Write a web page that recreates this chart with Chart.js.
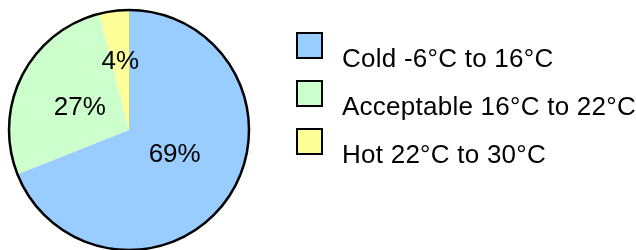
<!DOCTYPE html>
<html>
<head>
<meta charset="utf-8">
<script src="https://cdn.jsdelivr.net/npm/chart.js@4/dist/chart.umd.min.js"></script>
<style>
  html, body { margin: 0; padding: 0; background: #fff; }
  #wrap { width: 636px; height: 250px; position: relative; }
</style>
</head>
<body>
<div id="wrap"><canvas id="chart"></canvas></div>
<script>
// temperature bands, share of time (%)
const categories = ["Cold -6°C to 16°C", "Acceptable 16°C to 22°C", "Hot 22°C to 30°C"];
const shares = [69, 27, 4];
const sliceColors = ["#99CCFF", "#CCFFCC", "#FFFF99"];

const FONT = "26px 'Liberation Sans', Arial, sans-serif";

// black ring round the pie only (no lines between slices)
const outline = {
  id: "outline",
  afterDatasetsDraw(chart) {
    const arc = chart.getDatasetMeta(0).data[0];
    if (!arc) return;
    const { x, y, outerRadius } = arc.getProps(["x", "y", "outerRadius"], true);
    const ctx = chart.ctx;
    ctx.save();
    ctx.beginPath();
    ctx.arc(x, y, outerRadius, 0, Math.PI * 2);
    ctx.lineWidth = 2.5;
    ctx.strokeStyle = "#000";
    ctx.stroke();
    ctx.restore();
  }
};

// percent labels inside the slices
const sliceLabels = {
  id: "sliceLabels",
  afterDatasetsDraw(chart, args, opts) {
    const ctx = chart.ctx;
    const ds = chart.data.datasets[0];
    const total = ds.data.reduce((a, b) => a + b, 0);
    ctx.save();
    ctx.font = FONT;
    ctx.fillStyle = "#000";
    ctx.textAlign = "center";
    ctx.textBaseline = "middle";
    chart.getDatasetMeta(0).data.forEach((arc, i) => {
      const p = arc.getProps(["x", "y", "startAngle", "endAngle", "outerRadius"], true);
      const mid = (p.startAngle + p.endAngle) / 2;
      const r = p.outerRadius * opts.radius[i];
      const pct = Math.round(ds.data[i] / total * 100) + "%";
      ctx.fillText(pct, p.x + Math.cos(mid) * r + opts.shiftX[i], p.y + Math.sin(mid) * r + opts.shiftY[i]);
    });
    ctx.restore();
  }
};

// legend on the right: box sits a bit above its text
const sideLegend = {
  id: "sideLegend",
  afterDraw(chart, args, opts) {
    const ctx = chart.ctx;
    const ds = chart.data.datasets[0];
    ctx.save();
    ctx.font = FONT;
    ctx.letterSpacing = "0.25px";
    ctx.textBaseline = "alphabetic";
    chart.data.labels.forEach((label, i) => {
      const by = opts.boxTop + i * opts.step;
      ctx.fillStyle = ds.backgroundColor[i];
      ctx.fillRect(opts.boxX, by, opts.boxSize, opts.boxSize);
      ctx.lineWidth = 2;
      ctx.strokeStyle = "#000";
      ctx.strokeRect(opts.boxX, by, opts.boxSize, opts.boxSize);
      ctx.fillStyle = "#000";
      ctx.fillText(label, opts.textX, opts.textBase + i * opts.step);
    });
    ctx.restore();
  }
};

new Chart(document.getElementById("chart"), {
  type: "pie",
  data: {
    labels: categories,
    datasets: [{
      data: shares,
      backgroundColor: sliceColors,
      borderWidth: 0
    }]
  },
  options: {
    responsive: true,
    maintainAspectRatio: false,
    animation: false,
    layout: { padding: { left: 0, right: 378, top: 10, bottom: 0 } },
    plugins: {
      legend: { display: false },
      tooltip: { enabled: false },
      sliceLabels: { radius: [0.43, 0.46, 0.58], shiftX: [3, 0, 0], shiftY: [-4, 3, 1] },
      sideLegend: { boxX: 297, boxTop: 33, boxSize: 25, step: 48, textX: 342, textBase: 67 }
    }
  },
  plugins: [outline, sliceLabels, sideLegend]
});
</script>
</body>
</html>
